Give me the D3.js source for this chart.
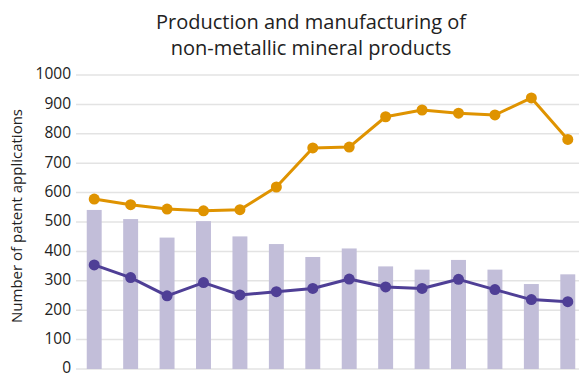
<!DOCTYPE html>
<html><head><meta charset="utf-8">
<script src="https://cdn.jsdelivr.net/npm/d3@7"></script>
<style>body{margin:0;background:#fff}svg{display:block}text{font-family:"Open Sans",sans-serif;fill:#222}</style>
</head><body><svg id="c" width="579" height="378"></svg>
<script>
const categories = ["1","2","3","4","5","6","7","8","9","10","11","12","13","14"];
const barValues = [541,510,447,503,451,425,381,410,349,338,371,338,289,322];
const orangeValues = [578,559,544,538,542,619,752,755,858,881,870,864,922,781];
const purpleValues = [354,311,249,294,252,263,274,306,279,274,305,270,236,229];
const yTicks = [0,100,200,300,400,500,600,700,800,900,1000];
const titleLines = ["Production and manufacturing of","non-metallic mineral products"];
const yLabel = "Number of patent applications";

const svg = d3.select("#c");
const x = d3.scaleBand().domain(categories).range([76,586]).paddingInner(0.59).paddingOuter(0.295);
const y = d3.scaleLinear().domain([0,1000]).range([369,75]);

svg.append("g").selectAll("line").data(yTicks).join("line")
  .attr("x1",76).attr("x2",579).attr("y1",d=>y(d)).attr("y2",d=>y(d))
  .attr("stroke","#e3e3e3").attr("stroke-width",1.5);

svg.append("g").selectAll("text").data(yTicks).join("text")
  .attr("x",71).attr("y",d=>y(d)).attr("dy","0.28em").attr("text-anchor","end")
  .attr("font-size",15.5).text(d=>d);

svg.append("g").selectAll("rect").data(barValues).join("rect")
  .attr("x",(d,i)=>x(categories[i])).attr("width",x.bandwidth())
  .attr("y",d=>y(d)).attr("height",d=>y(0)-y(d)).attr("fill","#c2bed9");

const cx = i => x(categories[i]) + x.bandwidth()/2;
function series(vals,color){
  const g = svg.append("g");
  g.append("path").datum(vals).attr("fill","none").attr("stroke",color).attr("stroke-width",3)
    .attr("stroke-linejoin","round")
    .attr("d", d3.line().x((d,i)=>cx(i)).y(d=>y(d)));
  g.selectAll("circle").data(vals).join("circle")
    .attr("cx",(d,i)=>cx(i)).attr("cy",d=>y(d)).attr("r",5.5).attr("fill",color);
}
series(orangeValues,"#df9300");
series(purpleValues,"#4f3f96");

svg.append("text").attr("text-anchor","middle").attr("font-size",20)
  .selectAll("tspan").data(titleLines).join("tspan")
  .attr("x",311).attr("y",(d,i)=>29+i*26).text(d=>d);

svg.append("text").attr("transform","translate(22,216) rotate(-90)")
  .attr("text-anchor","middle").attr("font-size",15).text(yLabel);
</script></body></html>
